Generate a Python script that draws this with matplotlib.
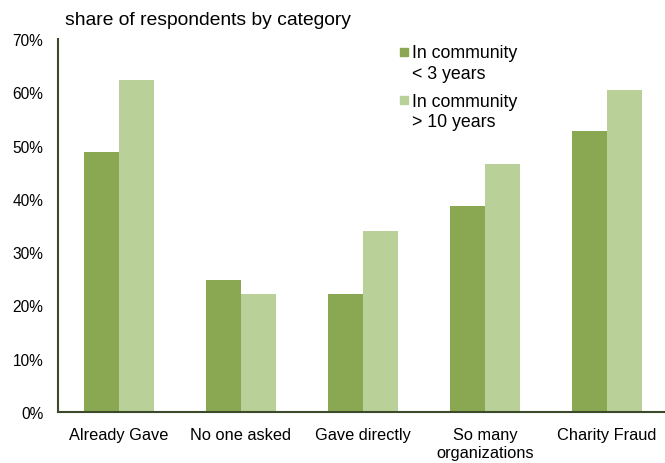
import matplotlib
matplotlib.use("Agg")
import matplotlib.pyplot as plt
from matplotlib.patches import Rectangle
import numpy as np
from matplotlib.ticker import PercentFormatter

categories = ["Already Gave", "No one asked", "Gave directly", "So many\norganizations", "Charity Fraud"]
short_tenure = [48.8, 24.8, 22.1, 38.6, 52.7]
long_tenure = [62.3, 22.1, 33.9, 46.6, 60.4]
series_labels = [["In community", "< 3 years"], ["In community", "> 10 years"]]

plt.rcParams["font.family"] = ["Liberation Sans", "DejaVu Sans"]

W, H = 665, 464
fig = plt.figure(figsize=(W / 100, H / 100), dpi=100)
ax = fig.add_axes([58 / W, 1 - 413 / H, 610 / W, 373 / H])

x = np.arange(len(categories))
w = 0.287
dark = "#8aa851"
light = "#b9d098"
ax.bar(x - w / 2, short_tenure, width=w, color=dark)
ax.bar(x + w / 2, long_tenure, width=w, color=light)

ax.set_xlim(-0.5, len(categories) - 0.5)
ax.set_ylim(0, 70)
ax.set_yticks(np.arange(0, 71, 10))
ax.yaxis.set_major_formatter(PercentFormatter(decimals=0))
ax.set_xticks(x)
ax.set_xticklabels(categories, fontsize=11.8, linespacing=1.25)
ax.tick_params(axis="both", length=0, colors="black")
ax.tick_params(axis="y", pad=10.5, labelsize=11.2)
ax.tick_params(axis="x", pad=10.5)

axis_color = "#3b4a2b"
for side in ["top", "right"]:
    ax.spines[side].set_visible(False)
for side in ["left", "bottom"]:
    ax.spines[side].set_color(axis_color)
    ax.spines[side].set_linewidth(1.5)

fig.text(65 / W, 1 - 25 / H, "share of respondents by category", fontsize=13.9,
         va="baseline", ha="left")

# Legend: a square beside the first line of each two-line label
legend_colors = [dark, light]
square_tops = [49, 97]
baselines = [(58, 79), (107, 127)]
for color, top, (b1, b2), lines in zip(legend_colors, square_tops, baselines, series_labels):
    fig.patches.append(Rectangle((400 / W, 1 - (top + 8) / H), 8 / W, 8 / H,
                                 transform=fig.transFigure, color=color))
    fig.text(412 / W, 1 - b1 / H, lines[0], fontsize=12.8, va="baseline", ha="left")
    fig.text(412 / W, 1 - b2 / H, lines[1], fontsize=12.8, va="baseline", ha="left")

fig.savefig("out.png", dpi=100)
